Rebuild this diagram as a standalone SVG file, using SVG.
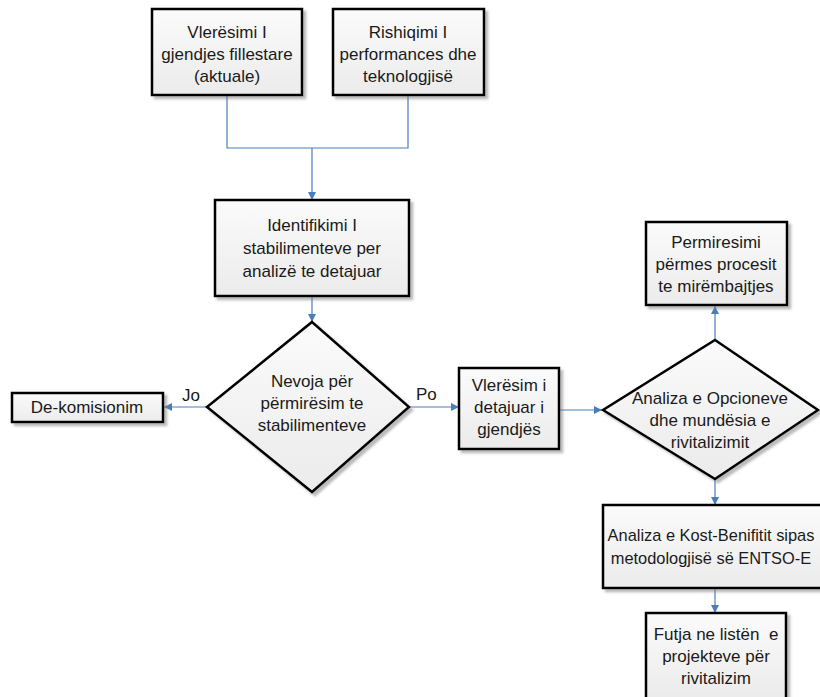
<svg xmlns="http://www.w3.org/2000/svg" width="820" height="697" viewBox="0 0 820 697">
<style>
.box{fill:url(#g);stroke:#000;stroke-width:2.5;filter:url(#sh)}
.t{font-family:"Liberation Sans",Arial,sans-serif;font-size:17px;fill:#1a1a1a;text-anchor:middle}
.lbl{font-family:"Liberation Sans",Arial,sans-serif;font-size:17px;fill:#1a1a1a}
.c{fill:none;stroke:#4a7ebb;stroke-width:1.2}
.ca{fill:none;stroke:#4a7ebb;stroke-width:1.2;marker-end:url(#ah)}
</style>
<defs>
<linearGradient id="g" x1="0" y1="0" x2="0" y2="1"><stop offset="0" stop-color="#fbfbfb"/><stop offset="1" stop-color="#ebebeb"/></linearGradient>
<filter id="sh" x="-10%" y="-10%" width="130%" height="130%"><feDropShadow dx="3" dy="3" stdDeviation="1" flood-color="#777" flood-opacity="0.5"/></filter>
<marker id="ah" viewBox="0 0 10 10" refX="10" refY="5" markerWidth="8" markerHeight="8" markerUnits="userSpaceOnUse" orient="auto"><path d="M0,0 L10,5 L0,10 z" fill="#4a7ebb"/></marker>
</defs>
<g id="connectors">
<path class="c" d="M227,95 V148 H408 V95"/>
<path class="ca" d="M312,148 V200"/>
<path class="ca" d="M312,296 V322"/>
<path class="ca" d="M207,407 H164"/>
<path class="ca" d="M409,407 H459"/>
<path class="ca" d="M559,410 H602"/>
<path class="ca" d="M715,340 V306"/>
<path class="ca" d="M715,479 V505"/>
<path class="ca" d="M715,588 V613"/>
<text class="lbl" x="182" y="401">Jo</text>
<text class="lbl" x="416" y="400">Po</text>
</g>
<g id="n1"><rect class="box" x="152" y="9" width="150" height="86"/>
<text class="t" x="227" y="38">Vlerësimi I</text><text class="t" x="227" y="60">gjendjes fillestare</text><text class="t" x="227" y="82">(aktuale)</text></g>
<g id="n2"><rect class="box" x="333" y="9" width="151" height="86"/>
<text class="t" x="408" y="38">Rishiqimi I</text><text class="t" x="408" y="60">performances dhe</text><text class="t" x="408" y="82">teknologjisë</text></g>
<g id="n3"><rect class="box" x="215" y="200" width="194" height="96"/>
<text class="t" x="312" y="231">Identifikimi I</text><text class="t" x="312" y="254">stabilimenteve per</text><text class="t" x="312" y="277">analizë te detajuar</text></g>
<g id="n4"><path class="box" d="M312,322 L409,407 L312,492 L207,407 Z"/>
<text class="t" x="312" y="387">Nevoja për</text><text class="t" x="312" y="409">përmirësim te</text><text class="t" x="312" y="431">stabilimenteve</text></g>
<g id="n5"><rect class="box" x="12" y="393" width="151" height="29"/>
<text class="t" x="87" y="413">De-komisionim</text></g>
<g id="n6"><rect class="box" x="459" y="368" width="100" height="81"/>
<text class="t" x="509" y="391">Vlerësim i</text><text class="t" x="509" y="413">detajuar i</text><text class="t" x="509" y="435">gjendjës</text></g>
<g id="n7"><path class="box" d="M715,340 L818,410 L715,479 L603,410 Z"/>
<text class="t" x="710" y="404">Analiza e Opcioneve</text><text class="t" x="710" y="426">dhe mundësia e</text><text class="t" x="710" y="448">rivitalizimit</text></g>
<g id="n8"><rect class="box" x="646" y="222" width="141" height="83"/>
<text class="t" x="716" y="248">Permiresimi</text><text class="t" x="716" y="270">përmes procesit</text><text class="t" x="716" y="292">te mirëmbajtjes</text></g>
<g id="n9"><rect class="box" x="603" y="505" width="224" height="83"/>
<text class="t" x="711" y="541" style="font-size:16.4px">Analiza e Kost-Benifitit sipas</text><text class="t" x="711" y="564" style="font-size:16.4px">metodologjisë së ENTSO-E</text></g>
<g id="n10"><rect class="box" x="646" y="613" width="140" height="86"/>
<text class="t" x="716" y="640" xml:space="preserve">Futja ne listën  e</text><text class="t" x="716" y="662">projekteve për</text><text class="t" x="716" y="684">rivitalizim</text></g>
</svg>
